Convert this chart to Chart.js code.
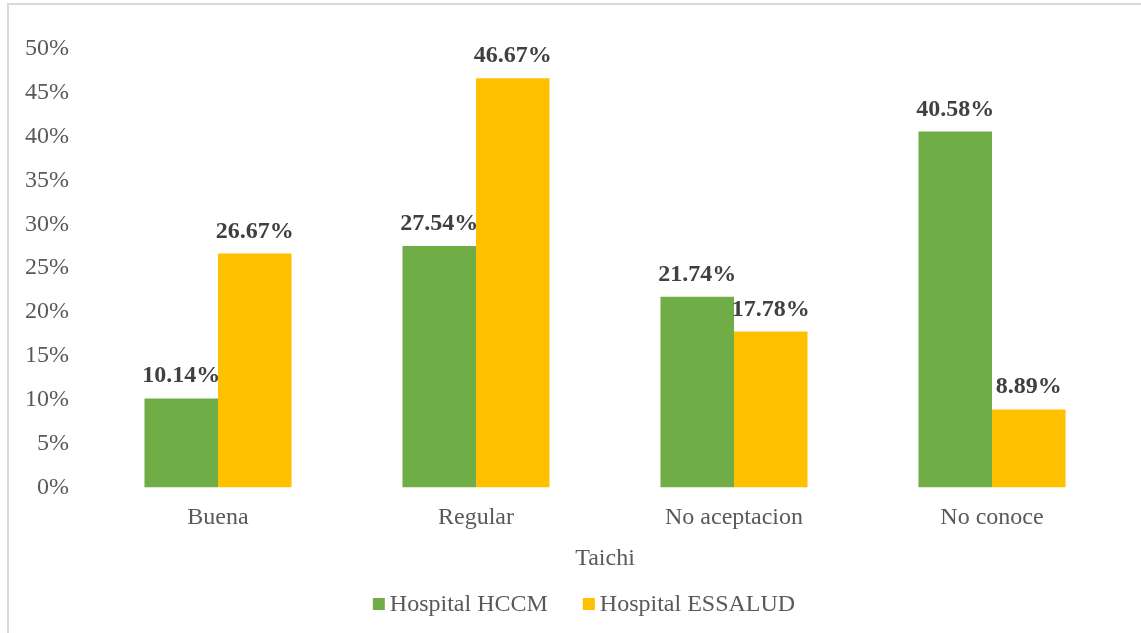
<!DOCTYPE html>
<html>
<head>
<meta charset="utf-8">
<script src="https://cdn.jsdelivr.net/npm/chart.js@4/dist/chart.umd.min.js"></script>
<style>
  html, body { margin: 0; padding: 0; background: #ffffff; }
  #wrap { position: relative; width: 1141px; height: 633px; overflow: hidden; background: #fff; }
  #frame { position: absolute; left: 7px; top: 3px; width: 1150px; height: 650px; border: 2px solid #d9d9d9; box-sizing: border-box; }
  canvas { position: absolute; left: 0; top: 0; }
</style>
</head>
<body>
<div id="wrap">
  <div id="frame"></div>
  <canvas id="c" width="1141" height="633"></canvas>
</div>
<script>
const categories = ["Buena", "Regular", "No aceptacion", "No conoce"];
const hccmValues = [10.14, 27.54, 21.74, 40.58];
const essaludValues = [26.67, 46.67, 17.78, 8.89];
const seriesNames = ["Hospital HCCM", "Hospital ESSALUD"];
const seriesColors = ["#70AD47", "#FFC000"];
const axisTitle = "Taichi";

const serif = "'Liberation Serif', 'Times New Roman', serif";

const dataLabels = {
  id: 'dataLabels',
  afterDatasetsDraw(chart) {
    const ctx = chart.ctx;
    ctx.save();
    ctx.font = "bold 24px " + serif;
    ctx.fillStyle = "#404040";
    ctx.textAlign = "center";
    ctx.textBaseline = "alphabetic";
    chart.data.datasets.forEach((ds, i) => {
      const meta = chart.getDatasetMeta(i);
      meta.data.forEach((bar, j) => {
        ctx.fillText(ds.data[j].toFixed(2) + "%", bar.x, bar.y - 16);
      });
    });
    ctx.restore();
  }
};

// Excel-style legend: small square, tight gap, text
const excelLegend = {
  id: 'excelLegend',
  afterDraw(chart) {
    const ctx = chart.ctx;
    ctx.save();
    ctx.font = "24px " + serif;
    ctx.textBaseline = "middle";
    const box = 12, gap = 5, itemGap = 35;
    const items = chart.data.datasets.map(ds => ({ text: ds.label, color: ds.backgroundColor, w: ctx.measureText(ds.label).width }));
    const total = items.reduce((s, it) => s + box + gap + it.w, 0) + itemGap * (items.length - 1);
    const cy = 604;
    let x = 584 - total / 2;
    items.forEach(it => {
      ctx.fillStyle = it.color;
      ctx.fillRect(x, cy - box / 2, box, box);
      x += box + gap;
      ctx.fillStyle = "#595959";
      ctx.textAlign = "left";
      ctx.fillText(it.text, x, cy + 1);
      x += it.w + itemGap;
    });
    ctx.restore();
  }
};

new Chart(document.getElementById('c'), {
  type: 'bar',
  data: {
    labels: categories,
    datasets: [
      { label: seriesNames[0], data: hccmValues, backgroundColor: seriesColors[0], borderWidth: 0, categoryPercentage: 0.57, barPercentage: 1.0 },
      { label: seriesNames[1], data: essaludValues, backgroundColor: seriesColors[1], borderWidth: 0, categoryPercentage: 0.57, barPercentage: 1.0 }
    ]
  },
  options: {
    responsive: false,
    animation: false,
    devicePixelRatio: 1,
    layout: { padding: { top: 49, left: 13, right: 20, bottom: 56 } },
    plugins: {
      legend: { display: false },
      tooltip: { enabled: false }
    },
    scales: {
      x: {
        grid: { display: false },
        border: { display: false },
        ticks: { font: { family: serif, size: 24 }, color: '#595959', padding: 8 },
        title: { display: true, text: axisTitle, font: { family: serif, size: 24 }, color: '#595959', padding: { top: 4, bottom: 4 } }
      },
      y: {
        min: 0, max: 50,
        grid: { display: false },
        border: { display: false },
        ticks: {
          stepSize: 5,
          font: { family: serif, size: 24 },
          color: '#595959',
          padding: 12,
          callback: v => v + "%"
        }
      }
    }
  },
  plugins: [dataLabels, excelLegend]
});
</script>
</body>
</html>
